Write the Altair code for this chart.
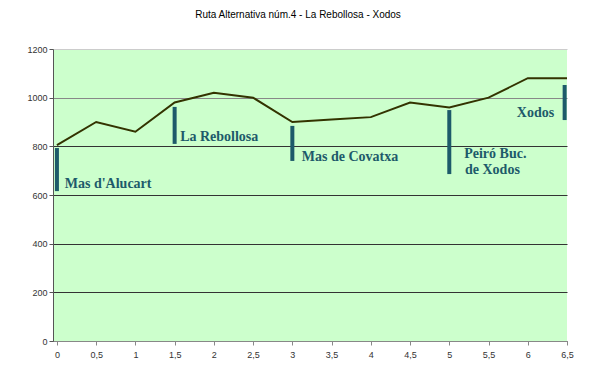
import altair as alt
import pandas as pd

# elevation profile
km = [0, 0.5, 1, 1.5, 2, 2.5, 3, 3.5, 4, 4.5, 5, 5.5, 6, 6.5]
alt_m = [805, 900, 860, 980, 1020, 1000, 900, 910, 920, 980, 960, 1000, 1080, 1080]

# place markers (vertical bars)
bar_x = [0, 1.5, 3.0, 5.0, 6.47]
bar_top = [793, 962, 884, 949, 1052]
bar_bot = [616, 810, 740, 686, 908]

# place labels
label_text = ["Mas d'Alucart", "La Rebollosa", "Mas de Covatxa", "Peiró Buc.", "de Xodos", "Xodos"]
label_x = [0.1, 1.57, 3.12, 5.19, 5.2, 5.86]
label_y = [645, 838, 756, 768, 703, 937]

x_ticks = [0, 0.5, 1, 1.5, 2, 2.5, 3, 3.5, 4, 4.5, 5, 5.5, 6, 6.5]
y_ticks = [0, 200, 400, 600, 800, 1000, 1200]

line_df = pd.DataFrame({"km": km, "alt": alt_m})
bar_df = pd.DataFrame({"x": bar_x, "top": bar_top, "bot": bar_bot})
lab_df = pd.DataFrame({"t": label_text, "x": label_x, "y": label_y})

xscale = alt.Scale(domain=[-0.05, 6.5], nice=False, zero=False)
yscale = alt.Scale(domain=[0, 1200], nice=False)

xaxis = alt.Axis(values=x_ticks, labelExpr="replace(toString(datum.value), '.', ',')",
                 title=None, grid=False, labelFontSize=9, labelColor="#333333",
                 labelFont="Liberation Sans", tickSize=4, tickColor="#888888",
                 domainColor="#888888", labelPadding=5, labelOverlap=False,
                 labelFlush=False)
yaxis = alt.Axis(values=y_ticks, format="d", title=None, grid=True,
                 gridColor={"condition": [{"test": "datum.value == 1200", "value": "#cccccc"},
                                          {"test": "datum.value == 1000", "value": "#888888"}],
                            "value": "#333333"},
                 labelFontSize=9, labelColor="#333333", labelFont="Liberation Sans",
                 tickSize=4, tickColor="#555555", domainColor="#555555", labelPadding=2,
                 labelOverlap=False, labelFlush=False)

line = alt.Chart(line_df).mark_line(color="#333300", strokeWidth=2).encode(
    x=alt.X("km:Q", scale=xscale, axis=xaxis),
    y=alt.Y("alt:Q", scale=yscale, axis=yaxis),
)

bars = alt.Chart(bar_df).mark_rule(color="#1D5A6A", strokeWidth=4).encode(
    x=alt.X("x:Q", scale=xscale, axis=xaxis),
    y=alt.Y("top:Q", scale=yscale, axis=yaxis),
    y2="bot:Q",
)

labels = alt.Chart(lab_df).mark_text(
    align="left", baseline="middle", font="Liberation Serif", fontWeight="bold",
    fontSize=14, color="#1D5A6A"
).encode(
    x=alt.X("x:Q", scale=xscale, axis=xaxis),
    y=alt.Y("y:Q", scale=yscale, axis=yaxis),
    text="t:N",
)

chart = alt.layer(line, bars, labels).properties(
    width=514, height=292,
    title=alt.TitleParams("Ruta Alternativa núm.4 - La Rebollosa - Xodos",
                          font="Liberation Sans", fontSize=10, fontWeight="normal",
                          color="#000000", anchor="middle", offset=25, dx=-12),
    autosize=alt.AutoSizeParams(type="none"),
    padding={"left": 45, "top": 41, "right": 19, "bottom": 21},
).configure_view(fill="#CCFFCC", stroke=None)

chart.save("out.html", embed_options={"renderer": "svg", "actions": False})
